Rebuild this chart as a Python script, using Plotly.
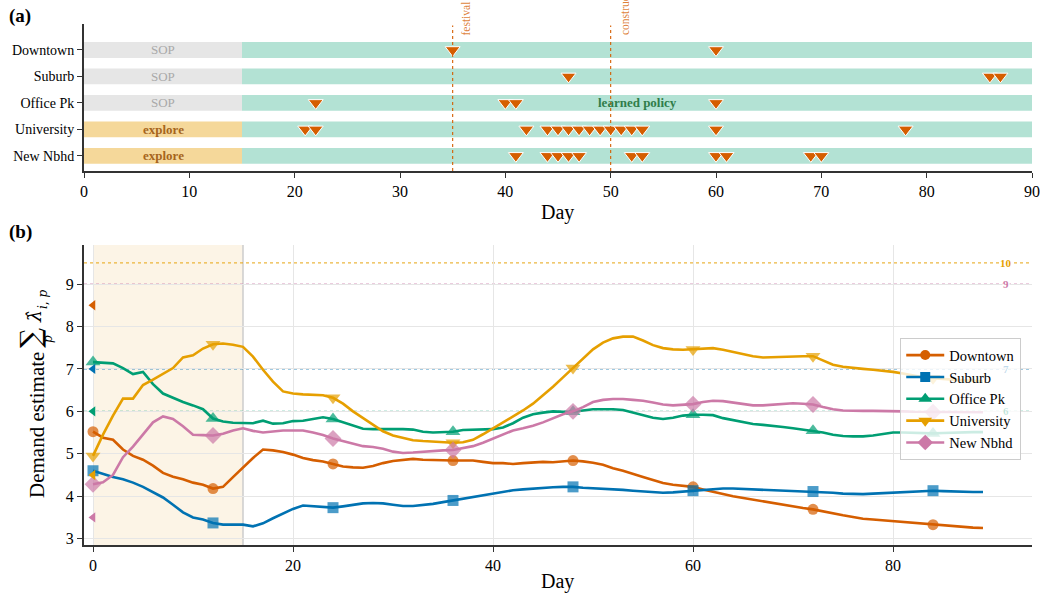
import plotly.graph_objects as go

FONT = "Liberation Serif"

# ---------------- panel (a): policy timeline ----------------
zones = ["Downtown", "Suburb", "Office Pk", "University", "New Nbhd"]
phase1_label = ["SOP", "SOP", "SOP", "explore", "explore"]
phase1_end = 15
horizon = 90
festival_day = 35
construct_day = 50

trigger_days = {
    "Downtown": [35, 60],
    "Suburb": [46, 86, 87],
    "Office Pk": [22, 40, 41, 60],
    "University": [21, 22, 42, 44, 45, 46, 47, 48, 49, 50, 51, 52, 53, 60, 78],
    "New Nbhd": [41, 44, 45, 46, 47, 52, 53, 60, 61, 69, 70],
}

# ---------------- panel (b): demand estimates ----------------
days = list(range(90))
demand = {
    "Downtown": [
        5.52, 5.38, 5.33, 5.10, 4.95, 4.86, 4.72, 4.55, 4.46, 4.40,
        4.32, 4.27, 4.18, 4.22, 4.45, 4.68, 4.90, 5.10, 5.08, 5.04,
        4.98, 4.90, 4.85, 4.82, 4.76, 4.70, 4.68, 4.67, 4.71, 4.78,
        4.83, 4.86, 4.88, 4.86, 4.85, 4.85, 4.84, 4.84, 4.84, 4.81,
        4.78, 4.78, 4.76, 4.78, 4.80, 4.81, 4.80, 4.82, 4.84, 4.82,
        4.79, 4.74, 4.66, 4.60, 4.52, 4.45, 4.38, 4.31, 4.27, 4.24,
        4.22, 4.16, 4.10, 4.05, 4.00, 3.96, 3.92, 3.87, 3.83, 3.79,
        3.76, 3.72, 3.69, 3.64, 3.59, 3.55, 3.51, 3.47, 3.45, 3.43,
        3.41, 3.39, 3.37, 3.35, 3.33, 3.31, 3.29, 3.27, 3.26, 3.25,
    ],
    "Suburb": [
        4.60, 4.52, 4.45, 4.40, 4.32, 4.22, 4.10, 3.97, 3.80, 3.62,
        3.50, 3.45, 3.37, 3.33, 3.33, 3.33, 3.29, 3.36, 3.48, 3.60,
        3.70, 3.78, 3.76, 3.74, 3.73, 3.76, 3.80, 3.83, 3.84, 3.83,
        3.80, 3.77, 3.77, 3.79, 3.82, 3.86, 3.90, 3.94, 3.98, 4.02,
        4.06, 4.10, 4.14, 4.16, 4.18, 4.20, 4.21, 4.22, 4.22, 4.20,
        4.19, 4.18, 4.17, 4.15, 4.13, 4.11, 4.09, 4.08, 4.09, 4.11,
        4.13, 4.15, 4.17, 4.18, 4.18, 4.17, 4.16, 4.15, 4.14, 4.13,
        4.12, 4.11, 4.11, 4.10, 4.08, 4.06, 4.05, 4.05, 4.06, 4.07,
        4.08, 4.09, 4.11, 4.12, 4.13, 4.12, 4.11, 4.10, 4.10, 4.10,
    ],
    "Office Pk": [
        7.16, 7.15, 7.13, 7.02, 6.88, 6.93, 6.64, 6.42, 6.32, 6.22,
        6.14, 6.05, 5.83, 5.76, 5.73, 5.72, 5.72, 5.78, 5.71, 5.72,
        5.77, 5.78, 5.82, 5.86, 5.82, 5.74, 5.66, 5.59, 5.58, 5.58,
        5.59, 5.58, 5.57, 5.52, 5.50, 5.51, 5.52, 5.56, 5.57, 5.58,
        5.58, 5.62, 5.72, 5.85, 5.93, 5.97, 6.00, 5.99, 5.99, 6.02,
        6.05, 6.05, 6.05, 6.03, 5.97, 5.91, 5.85, 5.82, 5.85, 5.90,
        5.92, 5.92, 5.91, 5.84, 5.79, 5.74, 5.70, 5.68, 5.66, 5.63,
        5.60, 5.57, 5.54, 5.50, 5.45, 5.42, 5.41, 5.41, 5.43, 5.47,
        5.50, 5.50, 5.49, 5.48, 5.48, 5.49, 5.50, 5.51, 5.51, 5.51,
    ],
    "University": [
        4.95, 5.45, 5.90, 6.30, 6.30, 6.62, 6.75, 6.88, 7.02, 7.27,
        7.32, 7.48, 7.58, 7.60, 7.57, 7.52, 7.29, 6.98, 6.70, 6.47,
        6.42, 6.40, 6.39, 6.38, 6.32, 6.18, 6.00, 5.84, 5.68, 5.53,
        5.43, 5.37, 5.32, 5.30, 5.29, 5.28, 5.26, 5.27, 5.33, 5.46,
        5.60, 5.74, 5.87, 6.02, 6.18, 6.37, 6.58, 6.80, 7.02, 7.24,
        7.46, 7.62, 7.72, 7.76, 7.76, 7.67, 7.56, 7.49, 7.46, 7.45,
        7.46, 7.48, 7.49, 7.45, 7.40, 7.35, 7.30, 7.27, 7.28, 7.29,
        7.29, 7.30, 7.30, 7.20, 7.10, 7.05, 7.02, 7.00, 6.98, 6.96,
        6.93, 6.89, 6.85, 6.80, 6.78, 6.76, 6.74, 6.73, 6.72, 6.71,
    ],
    "New Nbhd": [
        4.28, 4.33, 4.50, 4.92, 5.17, 5.45, 5.74, 5.88, 5.82, 5.65,
        5.45, 5.44, 5.43, 5.47, 5.55, 5.60, 5.54, 5.50, 5.53, 5.55,
        5.55, 5.55, 5.50, 5.44, 5.36, 5.30, 5.24, 5.18, 5.16, 5.12,
        5.05, 5.02, 5.03, 5.05, 5.06, 5.08, 5.09, 5.13, 5.18, 5.26,
        5.36, 5.46, 5.55, 5.60, 5.66, 5.74, 5.84, 5.93, 6.00, 6.10,
        6.22, 6.27, 6.29, 6.29, 6.27, 6.25, 6.21, 6.16, 6.14, 6.15,
        6.17, 6.22, 6.25, 6.24, 6.21, 6.17, 6.14, 6.14, 6.16, 6.18,
        6.19, 6.18, 6.16, 6.10, 6.05, 6.02, 6.01, 6.01, 6.01, 6.01,
        6.00, 6.00, 5.99, 5.99, 5.98, 5.98, 5.98, 5.98, 5.98, 5.98,
    ],
}
marker_every = 12

# true demand per zone (left-edge markers)
true_demand = [8.5, 7.0, 6.0, 4.5, 3.5]
# capacity reference lines: y position and label
cap_zone = ["University", "New Nbhd", "Suburb", "Office Pk"]
cap_level = [9.5, 9.0, 7.0, 6.0]
cap_label = ["10", "9", "7", "6"]
cap_under_legend = [False, False, True, True]

colors = {
    "Downtown": "#d55e00",
    "Suburb": "#0072b2",
    "Office Pk": "#009e73",
    "University": "#e69f00",
    "New Nbhd": "#cc79a7",
}
faint = {
    "Suburb": "rgba(0,114,178,0.25)",
    "Office Pk": "rgba(0,158,115,0.25)",
}
symbols = {
    "Downtown": "circle",
    "Suburb": "square",
    "Office Pk": "triangle-up",
    "University": "triangle-down",
    "New Nbhd": "diamond",
}
msize = {"Downtown": 11, "Suburb": 11, "Office Pk": 13, "University": 13, "New Nbhd": 13}

fig = go.Figure()

# ---- panel (a) bars ----
row_pos = {z: len(zones) - 1 - i for i, z in enumerate(zones)}
phase1_color = {"SOP": "#e6e6e6", "explore": "#f5d89a"}
for z, lab in zip(zones, phase1_label):
    fig.add_trace(go.Bar(
        orientation="h", y=[row_pos[z]], x=[phase1_end], base=[0], width=0.6,
        marker=dict(color=phase1_color[lab], line=dict(width=0)),
        showlegend=False, hoverinfo="skip", xaxis="x", yaxis="y",
    ))
fig.add_trace(go.Bar(
    orientation="h", y=[row_pos[z] for z in zones],
    x=[horizon - phase1_end] * len(zones), base=[phase1_end] * len(zones), width=0.6,
    marker=dict(color="#b3e2d4", line=dict(width=0)),
    showlegend=False, hoverinfo="skip", xaxis="x", yaxis="y",
))

# trigger markers
for z in zones:
    d = trigger_days[z]
    fig.add_trace(go.Scatter(
        x=d, y=[row_pos[z]] * len(d), mode="markers",
        marker=dict(symbol="triangle-down", size=13, color="#d55e00",
                    line=dict(color="white", width=1)),
        showlegend=False, hoverinfo="skip", xaxis="x", yaxis="y",
    ))

# ---- panel (b) lines ----
for z in zones:
    vals = demand[z]
    sizes = [msize[z] if d % marker_every == 0 else 0 for d in days]
    fig.add_trace(go.Scatter(
        x=days, y=vals, mode="lines+markers",
        line=dict(color=colors[z], width=2.6),
        marker=dict(symbol=symbols[z], size=sizes, color=colors[z], line=dict(width=0)),
        showlegend=False, hoverinfo="skip", xaxis="x2", yaxis="y2",
    ))

# true-demand markers at day 0
fig.add_trace(go.Scatter(
    x=[0] * len(zones), y=true_demand, mode="markers",
    marker=dict(symbol="triangle-left", size=9, color=[colors[z] for z in zones]),
    showlegend=False, hoverinfo="skip", xaxis="x2", yaxis="y2",
))

# legend entries
for z in zones:
    fig.add_trace(go.Scatter(
        x=[None], y=[None], mode="lines+markers", name=z,
        line=dict(color=colors[z], width=2.6),
        marker=dict(symbol=symbols[z], size=msize[z] - 1, color=colors[z]),
        xaxis="x2", yaxis="y2",
    ))

shapes = []
annotations = []

# event lines on panel (a)
for d in (festival_day, construct_day):
    shapes.append(dict(type="line", xref="x", yref="y domain", x0=d, x1=d, y0=0, y1=0.99,
                       line=dict(color="#d55e00", width=1.1, dash="dot")))
annotations.append(dict(text="festival", xref="x", yref="paper", x=festival_day + 0.55, y=0.975,
                        xanchor="left", yanchor="bottom", textangle=-90, showarrow=False,
                        font=dict(family=FONT, size=11.5, color="rgba(213,94,0,0.8)")))
annotations.append(dict(text="construct", xref="x", yref="paper", x=construct_day + 0.55, y=0.975,
                        xanchor="left", yanchor="bottom", textangle=-90, showarrow=False,
                        font=dict(family=FONT, size=11.5, color="rgba(213,94,0,0.8)")))

# phase labels on panel (a)
for z, lab in zip(zones, phase1_label):
    if lab == "SOP":
        annotations.append(dict(text="SOP", xref="x", yref="y", x=phase1_end / 2, y=row_pos[z],
                                showarrow=False, font=dict(family=FONT, size=13, color="#a9a9a9")))
    else:
        annotations.append(dict(text="<b>explore</b>", xref="x", yref="y", x=phase1_end / 2, y=row_pos[z],
                                showarrow=False, font=dict(family=FONT, size=13, color="#a6651c")))
annotations.append(dict(text="<b>learned policy</b>", xref="x", yref="y",
                        x=(phase1_end + horizon) / 2, y=row_pos["Office Pk"],
                        showarrow=False, font=dict(family=FONT, size=13, color="#2f7d4a")))

# exploration window on panel (b)
shapes.append(dict(type="rect", xref="x2", yref="y2 domain", x0=0, x1=phase1_end, y0=0, y1=1,
                   fillcolor="#fcf4e6", line=dict(width=0), layer="below"))
shapes.append(dict(type="line", xref="x2", yref="y2 domain", x0=phase1_end, x1=phase1_end, y0=0, y1=1,
                   line=dict(color="#cccccc", width=1.5), layer="below"))

# capacity reference lines
for z, lvl, lab, hidden in zip(cap_zone, cap_level, cap_label, cap_under_legend):
    shapes.append(dict(type="line", xref="x2 domain", yref="y2", x0=0, x1=1, y0=lvl, y1=lvl,
                       line=dict(color=colors[z], width=1.3, dash="dot"), opacity=0.75, layer="below"))
    annotations.append(dict(text="<b>" + lab + "</b>", xref="x2", yref="y2", x=91.3, y=lvl,
                            showarrow=False, bgcolor="rgba(0,0,0,0)" if hidden else "white",
                            borderpad=0,
                            font=dict(family=FONT, size=11, color=faint[z] if hidden else colors[z])))

# panel letters and axis titles
annotations.append(dict(text="<b>(a)</b>", xref="paper", yref="paper", x=-0.081, y=1.04,
                        xanchor="left", yanchor="top", showarrow=False,
                        font=dict(family=FONT, size=19, color="black")))
annotations.append(dict(text="<b>(b)</b>", xref="paper", yref="paper", x=-0.081, y=0.625,
                        xanchor="left", yanchor="top", showarrow=False,
                        font=dict(family=FONT, size=19, color="black")))
annotations.append(dict(text="Day", xref="paper", yref="paper", x=0.499, y=0.639,
                        xanchor="center", yanchor="middle", showarrow=False,
                        font=dict(family=FONT, size=20, color="black")))
annotations.append(dict(text="Day", xref="paper", yref="paper", x=0.499, y=-0.071,
                        xanchor="center", yanchor="middle", showarrow=False,
                        font=dict(family=FONT, size=20, color="black")))


# y-axis title of panel (b), built from pieces so the sum sign can be large
def px_x(p):
    return (p - 84) / 948


def px_y(p):
    return (545 - p) / 521


ytitle_parts = [
    ("Demand estimate", 37, 425, 21, "Liberation Serif"),
    ("∑", 30, 338, 28, "DejaVu Serif"),
    ("<i>p</i>", 48, 339, 12, "DejaVu Serif"),
    ("<i>λ̂</i>", 34, 317, 19, "DejaVu Serif"),
    ("<i>i</i>, <i>p</i>", 43, 300, 12, "DejaVu Serif"),
]
for txt, xp, yp, fs, fam in ytitle_parts:
    annotations.append(dict(text=txt, xref="paper", yref="paper", x=px_x(xp), y=px_y(yp),
                            xanchor="center", yanchor="middle", textangle=-90, showarrow=False,
                            font=dict(family=fam, size=fs, color="black")))

axis_common = dict(showline=True, linecolor="#333333", linewidth=2, ticks="outside",
                   ticklen=5, tickwidth=1.3, tickcolor="#333333", zeroline=False,
                   automargin=False,
                   tickfont=dict(family=FONT, size=16, color="black"))

fig.update_layout(
    width=1040, height=600,
    margin=dict(l=84, r=8, t=24, b=55, autoexpand=False),
    paper_bgcolor="white", plot_bgcolor="white",
    barmode="overlay",
    font=dict(family=FONT, color="black"),
    xaxis=dict(domain=[0, 1], anchor="y", range=[0, horizon], tickvals=list(range(0, 91, 10)),
               showgrid=False, **axis_common),
    yaxis=dict(domain=[0.718, 1], anchor="x", range=[-0.57, 4.98],
               tickvals=[row_pos[z] for z in zones], ticktext=zones, showgrid=False,
               **{**axis_common, "tickfont": dict(family=FONT, size=14, color="black")}),
    xaxis2=dict(domain=[0, 1], anchor="y2", range=[-0.9, 93.9], tickvals=[0, 20, 40, 60, 80],
                showgrid=True, gridcolor="#e6e6e6", gridwidth=1, **axis_common),
    yaxis2=dict(domain=[0, 0.5758], anchor="x2", range=[2.85, 9.92], tickvals=list(range(3, 10)),
                showgrid=True, gridcolor="#e6e6e6", gridwidth=1, **axis_common),
    legend=dict(x=0.861, y=0.397, xanchor="left", yanchor="top",
                bgcolor="rgba(255,255,255,0.8)", bordercolor="#cccccc", borderwidth=1,
                font=dict(family=FONT, size=14.5, color="black"), tracegroupgap=0,
                itemwidth=38),
    shapes=shapes,
    annotations=annotations,
)

fig.write_html("out.html")
